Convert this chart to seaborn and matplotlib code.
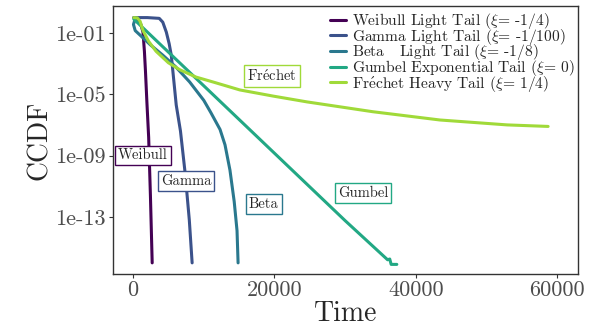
import numpy as np
import pandas as pd
import seaborn as sns
import matplotlib.pyplot as plt

# values (time, log10 CCDF)
weibull_t = [100, 600, 1100, 1400, 1600, 1750, 1950, 2200, 2450, 2700]
weibull_log = [0, -0.05, -0.45, -0.95, -2.2, -3.5, -5.5, -7.8, -11.6, -16.0]

gamma_t = [100, 2000, 3700, 4200, 4700, 5100, 5400, 6100, 6700, 7350, 7950, 8350]
gamma_log = [0, 0, -0.05, -0.3, -0.95, -1.7, -2.45, -5.7, -7.4, -10.1, -13.2, -16.0]

beta_t = [350, 50, 300, 1000, 2500, 4200, 6000, 8000, 10000, 11000, 12300, 13000,
          13700, 14300, 14700, 14850]
beta_log = [0, -0.45, -0.85, -1.15, -1.8, -2.45, -3.2, -4.2, -5.4, -6.2, -7.3, -8.3,
            -9.95, -12.0, -13.9, -16.0]

gumbel_t = [100, 10000, 20000, 30000, 36000, 36300, 36500, 37300]
gumbel_log = [-0.1, -4.45, -8.85, -13.25, -15.8, -15.75, -16.1, -16.1]

frechet_t = [100, 600, 1000, 1400, 2200, 3250, 5000, 6600, 8900, 11300, 15100,
             19800, 24600, 33900, 43400, 52900, 58700]
frechet_log = [0, -0.02, -0.25, -0.85, -1.55, -2.2, -2.95, -3.4, -3.88, -4.2, -4.72,
               -5.12, -5.5, -6.14, -6.68, -7.0, -7.1]

names = ["Weibull", "Gamma", "Beta", "Gumbel", r"Fr$\acute{\rm e}$chet"]
legend_labels = [
    r"Weibull Light Tail ($\xi$= -1/4)",
    r"Gamma Light Tail ($\xi$= -1/100)",
    r"Beta   Light Tail ($\xi$= -1/8)",
    r"Gumbel Exponential Tail ($\xi$= 0)",
    r"Fr$\acute{\rm e}$chet Heavy Tail ($\xi$= 1/4)",
]
colors = ["#440154", "#3B528B", "#2A788E", "#22A884", "#A0DA39"]

# label positions (time, log10 CCDF)
label_t = [1410, 7490, 18500, 32500, 19650]
label_log = [-9.0, -10.65, -12.15, -11.44, -3.8]

series = [(weibull_t, weibull_log), (gamma_t, gamma_log), (beta_t, beta_log),
          (gumbel_t, gumbel_log), (frechet_t, frechet_log)]
frames = []
for lab, (t, lg) in zip(legend_labels, series):
    frames.append(pd.DataFrame({"Time": t, "CCDF": 10.0 ** np.array(lg), "dist": lab}))
df = pd.concat(frames, ignore_index=True)

sns.set_style("ticks")
plt.rcParams['font.family'] = ['cmr10', 'DejaVu Serif']
plt.rcParams['mathtext.fontset'] = 'cm'
plt.rcParams['axes.unicode_minus'] = False

fig = plt.figure(figsize=(5.89, 3.3), dpi=100)
ax = fig.add_axes([0.192, 0.170, 0.789, 0.812])

sns.lineplot(data=df, x="Time", y="CCDF", hue="dist", hue_order=legend_labels,
             palette=colors, sort=False, estimator=None, linewidth=2.2, ax=ax)

ax.set_yscale('log')
ax.set_xlim(-2830, 62900)
ax.set_ylim(10 ** -16.72, 10 ** 0.76)
ax.set_yticks([1e-1, 1e-5, 1e-9, 1e-13])
ax.set_yticklabels(["1e-01", "1e-05", "1e-09", "1e-13"])
ax.minorticks_off()
ax.set_xticks([0, 20000, 40000, 60000])
ax.set_xticklabels(["0", "20000", "40000", "60000"])
ax.tick_params(axis='both', labelsize=16, labelcolor='#4d4d4d', color='#333333',
               length=3, width=0.8, pad=2)
for s in ax.spines.values():
    s.set_color('#333333')
    s.set_linewidth(1.0)
ax.set_xlabel("Time", fontsize=20, labelpad=0)
ax.set_ylabel("CCDF", fontsize=20, labelpad=2)

for name, t, lg, c in zip(names, label_t, label_log, colors):
    ax.text(t, 10 ** lg, name, fontsize=10.5, ha='center', va='center',
            bbox=dict(boxstyle='square,pad=0.2', fc='white', ec=c, lw=1.0))

ax.legend(title=None, frameon=False, loc='upper right', fontsize=11.2,
          labelspacing=-0.28, handlelength=1.0, handletextpad=0.4,
          borderaxespad=0.1, bbox_to_anchor=(1.01, 1.01))

fig.savefig("out.png", dpi=100)
